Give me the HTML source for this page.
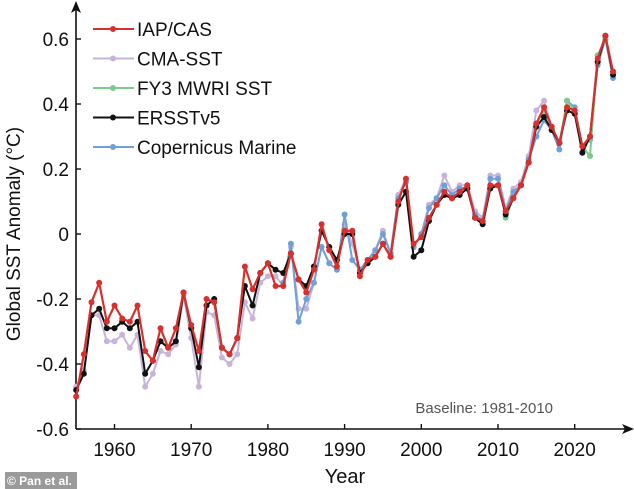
<!DOCTYPE html>
<html><head><meta charset="utf-8"><style>
html,body{margin:0;padding:0;background:#fff;width:634px;height:489px;overflow:hidden}
svg{display:block;font-family:"Liberation Sans",Arial,sans-serif}
</style></head><body>
<svg id="chart" width="634" height="489" viewBox="0 0 634 489">
<g id="axes"></g>
<g id="series"></g>
<g id="legend"></g>
<text x="553" y="413" font-size="15" fill="#555" text-anchor="end">Baseline: 1981-2010</text>
<text transform="translate(20,234) rotate(-90)" font-size="19" text-anchor="middle" fill="#111">Global SST Anomaly (°C)</text>
<text x="345" y="483" font-size="20" text-anchor="middle" fill="#111">Year</text>
<rect x="5" y="472" width="72" height="17" fill="#9a9a9a"/>
<text x="7" y="485" font-size="12" font-weight="bold" fill="#fff">© Pan et al.</text>
</svg>
<script>
const yearsStart = 1955;
const iap = [-0.50,-0.37,-0.21,-0.15,-0.27,-0.22,-0.26,-0.27,-0.22,-0.36,
-0.39,-0.29,-0.35,-0.29,-0.18,-0.28,-0.36,-0.20,-0.21,-0.35,
-0.37,-0.32,-0.10,-0.17,-0.12,-0.09,-0.16,-0.16,-0.06,-0.14,
-0.18,-0.11,0.03,-0.05,-0.10,0.01,0.01,-0.13,-0.08,-0.07,
-0.03,-0.07,0.10,0.17,-0.03,-0.01,0.05,0.09,0.13,0.11,
0.13,0.15,0.05,0.04,0.15,0.15,0.07,0.11,0.15,0.22,
0.34,0.39,0.33,0.28,0.39,0.38,0.27,0.30,0.54,0.61,0.50];
const ersst = [-0.48,-0.43,-0.25,-0.23,-0.29,-0.29,-0.27,-0.29,-0.27,-0.43,
-0.39,-0.33,-0.35,-0.33,-0.18,-0.29,-0.41,-0.22,-0.20,-0.35,
-0.37,-0.32,-0.16,-0.22,-0.12,-0.09,-0.11,-0.12,-0.06,-0.14,
-0.16,-0.10,0.01,-0.04,-0.08,0.00,0.00,-0.12,-0.09,-0.07,
-0.03,-0.07,0.09,0.13,-0.07,-0.05,0.04,0.09,0.12,0.11,
0.12,0.14,0.05,0.03,0.14,0.15,0.06,0.11,0.15,0.22,
0.33,0.36,0.32,0.28,0.38,0.37,0.25,0.30,0.53,0.61,0.49];
const cma = [-0.47,-0.42,-0.25,-0.25,-0.33,-0.33,-0.31,-0.35,-0.31,-0.47,
-0.43,-0.36,-0.37,-0.34,-0.19,-0.32,-0.47,-0.24,-0.25,-0.38,
-0.40,-0.37,-0.21,-0.26,-0.15,-0.13,-0.13,-0.16,-0.04,-0.23,
-0.23,-0.15,-0.04,-0.09,-0.11,0.03,-0.03,-0.11,-0.08,-0.05,
0.01,-0.06,0.12,0.17,-0.04,0.00,0.09,0.11,0.18,0.13,
0.15,0.15,0.07,0.05,0.18,0.18,0.08,0.14,0.16,0.24,
0.38,0.41,0.33,0.28,0.39,0.38,0.27,0.30,0.53,0.60,0.50];
const copStart = 1982;
const copernicus = [-0.15,-0.03,-0.27,-0.20,-0.15,-0.04,-0.09,-0.11,0.06,-0.08,
-0.11,-0.08,-0.05,0.00,-0.06,0.11,0.16,-0.04,0.00,0.08,
0.11,0.15,0.12,0.14,0.14,0.06,0.04,0.17,0.17,0.07,
0.13,0.15,0.23,0.30,0.35,0.32,0.26,0.41,0.39,0.27,
0.29,0.52,0.60,0.48];
const fyStart = 2011;
const fy3 = [0.05,0.11,0.15,0.22,0.34,0.38,0.33,0.28,0.41,0.38,0.27,0.24,0.55,0.60,0.50];
const xTicks = [1960,1970,1980,1990,2000,2010,2020];
const yTicks = [-0.6,-0.4,-0.2,0,0.2,0.4,0.6];

const NS = "http://www.w3.org/2000/svg";
function xS(yr){ return 114.5 + (yr-1960)*7.67; }
function yS(v){ return 234 - v*325; }
function mk(tag, attrs, parent){ const e=document.createElementNS(NS,tag); for(const k in attrs) e.setAttribute(k,attrs[k]); parent.appendChild(e); return e; }

const axes = document.getElementById('axes');
let e;
e = mk('line',{x1:76,y1:429,x2:626,y2:429,stroke:'#111','stroke-width':1.6},axes);


e = mk('path',{d:'M634 429 L622 424 L625 429 L622 434 Z',fill:'#111'},axes);


e = mk('line',{x1:76,y1:429,x2:76,y2:8,stroke:'#111','stroke-width':1.6},axes);


e = mk('path',{d:'M76 1 L71 13 L76 10 L81 13 Z',fill:'#111'},axes);


xTicks.forEach(t=>{
  const l = mk('line',{x1:xS(t),y1:429,x2:xS(t),y2:424,stroke:'#111','stroke-width':1.4},axes);
  
  
  const tx = mk('text',{x:xS(t),y:456,'font-size':19,'text-anchor':'middle',fill:'#111'},axes);
  tx.textContent = t;
  
  
});
yTicks.forEach(t=>{
  const l = mk('line',{x1:76,y1:yS(t),x2:81,y2:yS(t),stroke:'#111','stroke-width':1.4},axes);
  
  
  const tx = mk('text',{x:69,y:yS(t)+7,'font-size':19,'text-anchor':'end',fill:'#111'},axes);
  tx.textContent = (t===0?'0':t.toFixed(1));
  
  
});

const seriesG = document.getElementById('series');
function drawSeries(vals, start, color, name, w){
  const g = mk('g',{},seriesG);
  
  
  const pts = vals.map((v,i)=>xS(start+i).toFixed(1)+','+yS(v).toFixed(1)).join(' ');
  const pl = mk('polyline',{points:pts,fill:'none',stroke:color,'stroke-width':w,'stroke-linejoin':'round'},g);
  
  
  vals.forEach((v,i)=>{
    const c = mk('circle',{cx:xS(start+i),cy:yS(v),r:3,fill:color},g);
    
    
  });
}
drawSeries(cma, yearsStart, '#c8b4d8', 'cma-sst', 2);
drawSeries(copernicus, copStart, '#6fa0d8', 'copernicus-marine', 2);
drawSeries(fy3, fyStart, '#7ccb8c', 'fy3-mwri-sst', 2);
drawSeries(ersst, yearsStart, '#111111', 'ersstv5', 2);
drawSeries(iap, yearsStart, '#d8302c', 'iap-cas', 2.2);

const legendItems = [['IAP/CAS','#d8302c'],['CMA-SST','#c8b4d8'],['FY3 MWRI SST','#7ccb8c'],['ERSSTv5','#111111'],['Copernicus Marine','#6fa0d8']];
const lg = document.getElementById('legend');
legendItems.forEach((it,i)=>{
  const y = 29 + i*29.5;
  const g = mk('g',{},lg);
  
  
  mk('line',{x1:93,y1:y,x2:134,y2:y,stroke:it[1],'stroke-width':2},g);
  mk('circle',{cx:113,cy:y,r:3,fill:it[1]},g);
  const t = mk('text',{x:137,y:y+7,'font-size':19,fill:'#111'},g);
  t.textContent = it[0];
});
</script>
</body></html>
